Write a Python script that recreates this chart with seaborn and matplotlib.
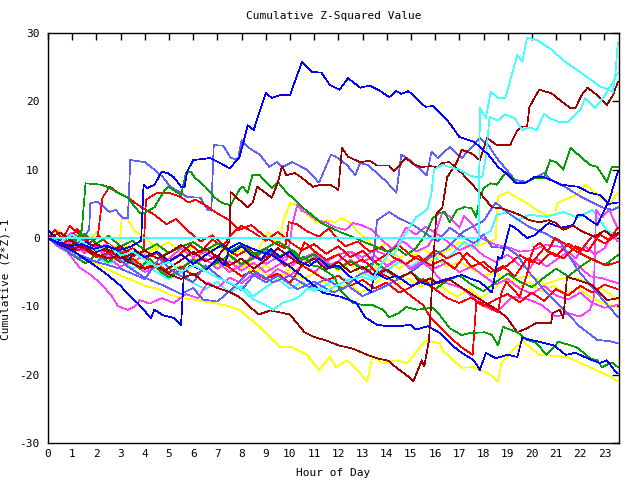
import matplotlib
matplotlib.use("Agg")
import matplotlib.pyplot as plt
import seaborn as sns
import pandas as pd

# ---------------- data: (hour, cumulative value) ----------------
blue_1 = [(0,0),(0.4,-0.6),(0.9,-1.2),(1.4,-0.9),(1.9,-1.6),(2.4,-1.1),(2.9,-1.8),(3.4,-1.3),(3.85,-0.4),(3.95,7.8),(4.1,7.3),(4.4,7.8),(4.7,9.7),(4.95,9.5),(5.2,8.9),(5.5,7.5),(5.65,7.5),(5.75,9.7),(6.0,11.4),(6.7,11.7),(7.1,11.0),(7.5,10.2),(7.9,11.7),(8.1,14.3),(8.25,16.5),(8.5,15.8),(9.0,21.2),(9.25,20.5),(9.6,20.9),(10.0,20.9),(10.5,25.8),(10.9,24.3),(11.3,24.2),(11.65,22.4),(12.05,21.7),(12.4,23.4),(12.9,22.0),(13.3,22.3),(13.7,21.6),(14.1,20.6),(14.4,21.5),(14.6,21.1),(14.9,21.5),(15.2,20.5),(15.6,19.2),(15.9,19.3),(16.2,18.3),(16.6,16.8),(17.0,14.8),(17.6,14.1),(18.2,12.2),(18.6,10.4),(19.0,9.3),(19.3,8.1),(19.7,8.0),(20.1,8.9),(20.5,8.9),(20.9,8.3),(21.2,7.8),(21.9,7.5),(22.4,6.6),(22.8,6.3),(23.2,5.0),(23.55,5.2)]
blue_2 = [(0,1.2),(0.5,-0.5),(1.0,-1.8),(1.5,-3.0),(2.0,-4.2),(2.5,-5.5),(3.0,-7.0),(3.4,-8.6),(3.7,-9.5),(4.25,-11.7),(4.4,-10.5),(4.75,-11.3),(5.2,-11.7),(5.5,-12.7),(5.62,-5.0),(5.9,-4.0),(6.5,-4.8),(7.0,-3.0),(7.3,-4.0),(7.5,-1.5),(7.9,-0.7),(8.6,-1.8),(9.25,-2.5),(10.0,-4.2),(10.7,-6.1),(11.35,-8.0),(12.1,-8.6),(12.75,-9.5),(13.1,-11.6),(13.6,-12.7),(14.0,-12.9),(14.5,-12.9),(15.0,-12.7),(15.2,-13.4),(15.7,-12.9),(16.2,-13.9),(16.7,-15.7),(17.1,-16.8),(17.6,-17.9),(17.85,-19.3),(18.1,-16.8),(18.5,-17.6),(19.0,-17.1),(19.4,-17.4),(19.6,-14.6),(20.3,-15.2),(20.9,-15.7),(21.4,-17.1),(21.8,-16.8),(22.3,-17.6),(22.8,-18.3),(23.1,-17.9),(23.4,-19.3),(23.55,-19.8)]
blue_3 = [(0,0),(0.5,-1.0),(1.0,-1.8),(1.6,-0.6),(2.0,-2.0),(2.5,-1.2),(3.0,-2.6),(3.3,-3.5),(3.6,-1.8),(4.0,-2.8),(4.5,-2.0),(5.0,-3.4),(5.5,-2.4),(6.0,-3.8),(6.5,-2.5),(7.2,-1.0),(7.6,-2.2),(8.0,-1.2),(8.4,-2.5),(8.8,-3.2),(9.2,-1.6),(9.6,-2.8),(10.0,-2.0),(10.4,-3.4),(10.8,-4.1),(11.2,-3.0),(11.6,-4.4),(12.0,-4.0),(12.4,-5.4),(12.8,-6.5),(13.1,-7.2),(13.35,-7.9),(13.5,-5.0),(14.0,-6.0),(14.4,-5.5),(15.0,-7.0),(15.4,-6.5),(15.8,-6.9),(16.3,-6.2),(16.7,-5.8),(17.1,-5.4),(17.5,-6.0),(17.85,-6.4),(18.35,-8.0),(18.6,-2.8),(18.75,-3.0),(19.1,1.9),(19.3,1.5),(19.8,0.0),(20.1,0.4),(20.5,1.6),(20.7,2.2),(21.2,1.5),(21.7,1.9),(21.9,3.4),(22.1,3.4),(22.4,2.6),(22.7,1.9),(23.0,4.1),(23.2,5.6),(23.45,8.5),(23.55,9.7)]
lightblue_1 = [(0,0),(0.5,-0.6),(1.0,-1.2),(1.4,-0.3),(1.7,1.2),(1.75,5.1),(2.05,5.3),(2.55,3.8),(2.8,4.1),(3.1,2.9),(3.3,2.9),(3.4,11.4),(4.0,11.1),(4.4,10.0),(4.75,8.9),(5.05,7.5),(5.45,6.7),(5.75,6.0),(6.3,5.9),(6.6,4.1),(6.75,4.0),(6.85,13.6),(7.25,13.5),(7.55,11.7),(7.85,11.5),(8.0,14.3),(8.3,13.2),(8.75,12.2),(9.15,10.4),(9.45,11.1),(9.7,10.4),(10.1,11.1),(10.7,10.0),(11.2,8.1),(11.7,12.2),(11.9,11.9),(12.35,10.7),(12.7,9.2),(12.9,11.0),(13.2,10.7),(13.6,9.5),(14.0,8.2),(14.4,6.6),(14.6,12.2),(14.95,11.4),(15.65,9.2),(15.85,12.6),(16.1,11.7),(16.6,13.3),(17.1,11.7),(17.85,14.6),(18.2,13.6),(18.55,11.7),(18.95,10.0),(19.3,8.5),(19.8,8.2),(20.5,9.5),(20.8,8.5),(21.45,7.3),(21.9,6.3),(22.1,5.9),(22.9,4.5),(23.35,4.1),(23.55,4.5)]
lightblue_2 = [(0,0),(1.0,-2.0),(2.0,-3.5),(3.0,-4.5),(4.0,-6.0),(4.6,-3.0),(5.2,-5.0),(6.0,-6.5),(6.5,-4.0),(7.2,-6.0),(8.0,-7.6),(8.6,-5.0),(9.3,-6.5),(10.0,-5.5),(10.8,-7.2),(11.5,-6.0),(12.2,-7.5),(12.8,-5.5),(13.4,-4.5),(13.6,2.6),(14.1,3.8),(14.5,2.9),(15.1,1.9),(15.6,0.7),(16.1,-0.5),(16.6,1.5),(17.1,0.3),(17.6,-0.8),(18.0,0.5),(18.35,-1.3),(19.0,-1.5),(19.4,-2.5),(19.9,-5.1),(20.6,-8.0),(21.3,-10.5),(22.0,-13.0),(22.7,-14.9),(23.2,-15.1),(23.55,-15.4)]
lightblue_3 = [(0,0),(0.6,-1.5),(1.2,-2.8),(2.0,-3.5),(2.6,-2.0),(3.3,-4.2),(4.0,-5.8),(4.8,-7.0),(5.5,-8.2),(6.0,-7.3),(6.4,-9.0),(7.0,-9.3),(7.6,-7.5),(8.3,-5.0),(9.0,-6.5),(9.5,-5.5),(10.3,-7.5),(11.0,-6.4),(11.8,-8.0),(12.4,-7.0),(13.0,-8.5),(13.8,-7.3),(14.5,-6.0),(15.2,-4.5),(15.8,-2.8),(16.5,-1.5),(17.2,1.0),(18.0,2.5),(18.5,5.2),(19.0,3.7),(19.9,1.6),(20.6,0.6),(21.2,-0.7),(21.9,-4.7),(22.4,-6.8),(22.9,-8.9),(23.3,-10.5),(23.55,-11.6)]
green_1 = [(0,0),(0.5,-0.8),(1.0,-1.5),(1.4,1.2),(1.55,8.0),(2.2,7.8),(2.45,7.5),(2.9,6.6),(3.3,5.9),(3.6,4.5),(3.8,3.7),(4.0,3.7),(4.4,4.5),(4.75,6.6),(4.95,7.5),(5.2,7.0),(5.5,6.3),(5.7,9.5),(5.9,9.7),(6.05,8.9),(6.5,7.5),(6.9,5.9),(7.2,5.1),(7.55,4.8),(7.9,7.0),(8.05,7.5),(8.25,6.6),(8.45,9.2),(8.75,9.2),(9.25,7.3),(9.5,8.2),(9.85,6.7),(10.1,5.9),(10.5,4.5),(10.9,3.4),(11.3,2.2),(11.7,1.5),(12.05,0.9),(12.5,0.3),(13.0,-0.5),(13.5,-1.2),(14.0,-2.0),(14.4,-1.4),(14.8,-2.5),(15.2,-1.5),(15.6,0.5),(15.9,2.9),(16.2,3.7),(16.4,3.8),(16.6,2.3),(16.9,4.1),(17.2,4.5),(17.5,4.4),(17.7,3.1),(17.85,5.9),(18.0,7.3),(18.3,8.0),(18.55,7.8),(18.9,9.5),(19.2,8.9),(19.4,8.0),(19.8,8.2),(20.1,8.8),(20.5,8.8),(20.75,11.4),(21.0,11.1),(21.3,10.0),(21.6,13.2),(21.85,12.4),(22.4,10.7),(22.7,10.4),(23.1,8.2),(23.3,10.4),(23.55,10.4)]
green_2 = [(0,0),(0.5,0.8),(1.0,-0.4),(1.5,0.6),(2.0,-0.8),(2.5,0.3),(3.0,-1.2),(3.5,-0.4),(4.0,-1.8),(4.5,-0.9),(5.0,-2.2),(5.5,-1.3),(6.0,-0.6),(6.5,-1.8),(7.0,-0.8),(7.5,-2.0),(8.0,-1.0),(8.5,-2.4),(9.0,-1.5),(9.5,-0.5),(9.9,-1.4),(10.2,-2.0),(10.4,-2.9),(10.6,-2.8),(10.9,-4.0),(11.2,-4.2),(11.85,-5.7),(12.05,-7.6),(12.35,-8.6),(12.6,-9.5),(13.0,-9.8),(13.4,-9.8),(13.85,-10.5),(14.1,-11.6),(14.5,-11.0),(14.8,-10.1),(15.25,-10.5),(15.9,-10.2),(16.2,-11.3),(16.6,-13.2),(17.1,-14.2),(17.45,-13.9),(18.05,-13.8),(18.35,-14.2),(18.6,-15.7),(18.75,-13.8),(18.8,-13.0),(19.4,-13.8),(19.8,-14.9),(20.2,-15.4),(20.6,-17.1),(21.1,-15.2),(21.6,-15.7),(21.9,-16.1),(22.4,-17.6),(22.7,-17.9),(22.9,-18.9),(23.3,-18.2),(23.55,-18.9)]
green_3 = [(0,0),(0.5,-1.2),(1.0,-2.5),(1.55,-3.7),(2.0,-2.4),(2.5,-3.5),(3.0,-2.0),(3.3,-3.0),(3.8,-4.5),(4.2,-3.0),(4.6,-4.8),(5.0,-5.8),(5.5,-4.5),(6.0,-3.2),(6.5,-4.4),(7.0,-3.6),(7.5,-2.5),(8.0,-3.8),(8.5,-2.9),(9.0,-1.5),(9.5,-2.8),(10.0,-1.9),(10.5,-3.2),(11.0,-2.4),(11.5,-3.8),(12.0,-4.5),(12.5,-3.4),(13.0,-4.6),(13.5,-3.5),(14.0,-4.8),(14.5,-6.0),(15.0,-5.0),(15.5,-6.4),(16.0,-7.5),(16.5,-6.2),(17.0,-5.5),(17.5,-6.8),(18.0,-7.8),(18.5,-6.5),(19.0,-5.2),(19.5,-6.4),(20.0,-7.2),(20.5,-5.8),(21.0,-4.5),(21.5,-5.6),(22.0,-4.2),(22.5,-3.0),(23.0,-4.0),(23.55,-2.5)]
red_1 = [(0,0),(0.4,0.6),(0.8,-0.5),(1.2,1.3),(1.6,-0.3),(2.05,0.0),(2.25,5.9),(2.55,7.5),(2.9,6.6),(3.3,5.9),(3.9,4.4),(4.4,3.4),(4.9,2.0),(5.3,2.8),(5.8,1.0),(6.3,-0.5),(6.8,0.4),(7.3,-1.2),(7.8,-2.6),(8.3,-1.6),(8.8,-3.1),(9.3,-2.3),(9.8,-4.1),(10.3,-3.2),(10.6,-0.6),(11.0,-1.9),(11.5,-3.2),(12.0,-2.4),(12.5,-4.0),(13.0,-3.1),(13.5,-4.8),(14.0,-5.6),(14.5,-7.0),(15.0,-8.5),(15.5,-9.8),(15.8,-11.6),(16.6,-14.5),(17.1,-16.0),(17.55,-17.1),(17.7,-9.5),(17.85,-9.4),(18.6,-10.8),(18.75,-7.9),(18.95,-6.4),(19.5,-8.6),(19.85,-4.7),(19.9,-3.2),(20.1,-1.3),(20.35,-0.7),(20.65,-2.0),(20.95,0.0),(21.3,-0.7),(21.85,-2.0),(22.7,-3.5),(23.1,-4.0),(23.55,-3.5)]
red_2 = [(0,0),(0.5,-0.8),(1.0,-0.3),(1.5,-1.6),(2.0,-1.0),(2.5,-2.2),(3.0,-1.4),(3.5,-2.7),(3.95,-2.0),(4.05,5.6),(4.5,6.6),(5.0,6.6),(5.5,6.0),(5.8,5.2),(6.1,5.6),(6.5,4.8),(7.0,3.6),(7.5,2.6),(7.9,1.2),(8.4,1.9),(8.9,0.4),(9.4,-0.8),(9.8,-1.5),(9.95,2.3),(10.3,2.0),(10.7,1.0),(11.2,0.2),(11.6,1.4),(12.0,-0.3),(12.3,-1.2),(12.8,-0.5),(13.3,-2.0),(13.8,-1.3),(14.3,-2.9),(14.8,-3.8),(15.3,-2.6),(15.8,-4.0),(16.3,-3.2),(16.8,-4.5),(17.3,-2.2),(17.8,-3.6),(18.3,-5.0),(18.8,-4.1),(19.3,-5.6),(19.8,-3.0),(20.3,-3.8),(20.8,-2.1),(21.3,-3.0),(21.8,-1.2),(22.3,-2.0),(22.8,0.5),(23.2,-0.3),(23.55,1.5)]
red_3 = [(0,0),(0.5,-1.0),(1.0,-2.0),(1.5,-1.5),(2.0,-2.8),(2.5,-2.2),(3.0,-3.6),(3.5,-3.0),(4.0,-4.4),(4.5,-3.8),(5.0,-5.0),(5.5,-4.2),(6.0,-5.5),(6.5,-4.6),(7.0,-3.2),(7.5,-4.3),(8.0,-5.6),(8.5,-4.8),(9.0,-6.0),(9.5,-5.2),(10.0,-6.6),(10.5,-4.0),(11.0,-5.1),(11.5,-6.2),(12.0,-5.5),(12.5,-7.0),(13.0,-6.1),(13.5,-7.4),(14.0,-6.5),(14.5,-8.0),(15.0,-7.2),(15.5,-6.0),(16.0,-7.5),(16.5,-8.8),(17.0,-9.5),(17.5,-8.7),(18.0,-10.0),(18.5,-9.0),(19.0,-8.2),(19.5,-9.4),(20.0,-8.0),(20.5,-9.2),(21.0,-7.5),(21.5,-8.4),(22.0,-7.0),(22.5,-8.0),(23.0,-6.8),(23.55,-7.5)]
red_4 = [(0,0),(0.3,1.2),(0.6,-0.2),(0.9,1.8),(1.3,0.5),(1.7,-0.8),(2.1,0.3),(2.6,-1.2),(3.0,-2.4),(3.5,-1.5),(4.0,-3.0),(4.5,-2.2),(4.9,-3.6),(5.4,-2.5),(5.9,-1.0),(6.3,-2.1),(6.8,-0.2),(7.2,-1.3),(7.6,0.6),(8.0,1.8),(8.5,0.8),(9.0,-0.4),(9.5,0.9),(10.0,-0.6),(10.5,-1.8),(11.0,-0.9),(11.5,-2.3),(12.0,-1.2),(12.5,-2.8),(13.0,-1.9),(13.5,-3.5),(14.0,-2.4),(14.5,-1.0),(15.0,-2.6),(15.5,-3.4),(16.0,-1.8),(16.5,-3.0),(17.0,-2.1),(17.5,-4.2),(18.0,-3.5),(18.5,-5.0),(19.0,-4.0),(19.5,-2.5),(20.0,-3.6),(20.5,-1.5),(21.0,-2.7),(21.5,-0.8),(22.0,-1.9),(22.5,0.3),(23.0,-0.8),(23.55,0.5)]
darkred_1 = [(0,0),(0.5,-0.8),(1.0,-1.5),(1.5,-1.2),(2.0,-2.4),(2.5,-3.0),(3.0,-2.5),(3.5,-3.8),(4.0,-4.5),(4.5,-4.0),(5.0,-5.3),(5.5,-6.0),(6.0,-5.2),(6.5,-6.6),(7.0,-7.3),(7.5,-7.9),(7.9,-8.6),(8.7,-11.2),(9.2,-10.6),(10.0,-11.2),(10.6,-13.8),(11.0,-14.5),(11.5,-15.0),(12.0,-15.7),(12.6,-16.2),(13.2,-17.1),(13.6,-17.6),(14.1,-18.0),(14.4,-19.0),(14.8,-20.0),(15.1,-21.0),(15.45,-17.9),(15.55,-18.8),(15.75,-14.9),(15.9,-5.0),(16.05,3.5),(16.2,4.1),(16.3,4.5),(16.5,8.9),(16.9,11.1),(17.1,12.9),(17.5,12.4),(17.85,11.4),(18.15,14.6),(18.55,13.6),(19.1,13.6),(19.4,15.8),(19.6,16.3),(19.8,16.3),(19.9,19.2),(20.3,21.7),(20.8,21.2),(21.15,20.2),(21.6,19.0),(21.8,19.0),(22.05,20.9),(22.3,22.0),(22.7,20.9),(23.1,19.5),(23.35,20.9),(23.55,22.8)]
darkred_2 = [(0,0),(0.5,0.8),(1.0,-0.5),(1.5,-1.5),(2.0,-0.8),(2.5,-2.0),(3.0,-1.2),(3.5,-2.6),(4.0,-1.8),(4.5,-3.0),(5.0,-2.2),(5.5,-1.0),(6.0,-2.4),(6.5,-1.5),(7.0,-2.8),(7.5,-0.5),(7.55,6.7),(7.9,5.6),(8.25,4.5),(8.45,5.1),(8.65,7.5),(9.25,5.9),(9.5,8.1),(9.65,10.3),(9.7,10.4),(9.85,9.2),(10.2,9.5),(10.5,8.8),(10.7,8.2),(10.95,7.5),(11.3,7.8),(11.65,7.8),(11.9,7.3),(12.0,7.0),(12.15,13.2),(12.4,11.9),(12.9,11.1),(13.3,11.3),(13.6,10.6),(14.1,10.6),(14.3,9.8),(14.8,11.7),(15.1,10.8),(15.4,10.4),(15.8,10.5),(16.1,10.4),(16.3,11.0),(16.6,11.1),(16.8,10.4),(17.1,9.5),(17.85,6.6),(18.35,4.5),(18.8,4.3),(19.2,3.8),(19.6,3.2),(19.9,2.6),(20.3,2.3),(20.7,2.6),(21.0,2.2),(21.3,1.2),(21.7,1.8),(22.1,0.9),(22.6,0.2),(23.0,1.1),(23.3,0.3),(23.55,0.7)]
darkred_3 = [(0,0),(0.6,-1.2),(1.2,-0.8),(1.8,-2.3),(2.4,-1.5),(3.0,-3.0),(3.6,-2.2),(4.2,-3.6),(4.8,-4.8),(5.4,-3.5),(6.0,-2.0),(6.5,-3.4),(7.0,-2.6),(7.5,-4.0),(8.0,-3.0),(8.5,-4.5),(9.0,-3.2),(9.5,-1.5),(10.0,-2.8),(10.5,-4.0),(11.0,-3.0),(11.5,-4.6),(12.0,-3.5),(12.5,-5.0),(13.0,-4.2),(13.5,-5.5),(14.0,-4.6),(14.5,-5.8),(15.0,-5.0),(15.4,-6.5),(15.8,-5.9),(16.1,-6.6),(16.6,-6.1),(17.55,-8.3),(18.55,-10.5),(18.95,-11.6),(19.4,-13.8),(19.8,-13.2),(20.2,-12.4),(20.8,-12.4),(20.85,-11.0),(21.15,-10.5),(21.3,-11.7),(21.45,-5.7),(21.85,-6.1),(22.5,-6.9),(23.1,-9.1),(23.55,-8.8)]
yellow_1 = [(0,0),(0.5,-1.5),(1.0,-2.4),(1.5,-3.0),(2.0,-3.8),(2.5,-4.6),(3.0,-5.5),(3.5,-6.2),(4.0,-7.0),(4.5,-7.4),(5.0,-8.2),(5.5,-8.8),(6.0,-9.0),(6.5,-9.3),(7.0,-9.6),(7.5,-10.0),(7.9,-10.5),(8.75,-13.0),(9.6,-16.0),(10.1,-16.0),(10.7,-17.1),(11.2,-19.3),(11.65,-17.4),(11.9,-18.9),(12.35,-17.9),(12.7,-19.0),(13.2,-21.0),(13.4,-17.4),(13.85,-18.3),(14.4,-17.9),(14.85,-18.3),(15.6,-15.0),(16.2,-15.4),(16.3,-16.4),(17.1,-19.0),(17.55,-18.9),(18.2,-19.8),(18.6,-21.0),(18.75,-18.2),(19.6,-15.0),(20.3,-17.1),(21.45,-17.4),(22.0,-18.3),(22.95,-19.8),(23.3,-20.4),(23.55,-21.0)]
yellow_2 = [(0,0),(0.5,-0.9),(1.0,-1.5),(1.5,-0.8),(2.0,-2.0),(2.5,-1.4),(2.95,-1.0),(3.05,2.9),(3.3,2.7),(3.6,1.0),(4.0,0.2),(4.5,-1.5),(5.0,-0.6),(5.5,-2.2),(6.0,-1.3),(6.5,-2.8),(7.0,-1.0),(7.5,-2.5),(8.0,-1.6),(8.5,-3.0),(8.9,-0.3),(9.1,0.9),(9.4,-0.5),(9.6,-0.5),(9.7,2.2),(10.0,5.1),(10.3,4.8),(10.7,3.4),(11.1,2.3),(11.55,2.6),(11.85,2.3),(12.15,2.9),(12.5,2.2),(12.8,0.9),(13.1,0.0),(13.6,-1.5),(14.0,-0.8),(14.5,-3.0),(15.0,-2.0),(15.5,-3.7),(16.0,-3.0),(16.5,-4.2),(17.0,-3.5),(17.5,-4.5),(18.0,-5.5),(18.5,-5.0),(19.0,-6.5),(19.5,-5.8),(20.0,-5.5),(20.5,-6.8),(21.0,-6.2),(21.5,-5.7),(22.0,-6.0),(22.5,-7.2),(23.0,-7.6),(23.55,-9.1)]
yellow_3 = [(0,0),(0.5,-1.2),(1.0,-2.0),(1.5,-1.5),(2.0,-3.0),(2.5,-2.4),(3.0,-3.6),(3.5,-2.8),(4.0,-4.2),(4.5,-3.5),(5.0,-5.0),(5.5,-4.0),(6.0,-5.4),(6.5,-4.5),(7.0,-3.2),(7.5,-4.8),(8.0,-3.5),(8.5,-5.2),(9.0,-4.0),(9.5,-5.6),(10.0,-4.5),(10.5,-6.0),(11.0,-5.2),(11.5,-3.5),(12.0,-4.8),(12.5,-3.8),(13.0,-5.5),(13.5,-4.4),(14.0,-3.0),(14.5,-4.5),(15.0,-3.2),(15.5,-1.5),(16.0,-2.8),(16.5,-1.8),(17.0,-0.6),(17.5,-1.5),(18.0,-0.8),(18.5,-0.2),(18.6,6.0),(18.75,6.3),(19.0,6.7),(19.8,5.1),(20.2,4.1),(20.55,3.4),(20.95,3.4),(21.05,5.1),(21.6,6.0),(21.9,6.3),(22.2,7.8),(22.5,7.0),(22.95,5.6),(23.2,4.8),(23.4,6.0),(23.55,6.6)]
yellow_4 = [(0,0),(0.4,1.2),(0.8,0.2),(1.2,1.0),(1.6,-0.5),(2.0,0.8),(2.4,-0.6),(2.9,-1.8),(3.4,-1.0),(3.9,-2.5),(4.4,-1.6),(4.9,-3.0),(5.4,-2.0),(5.9,-3.5),(6.4,-2.6),(6.9,-4.2),(7.4,-3.0),(7.9,-4.5),(8.4,-3.6),(8.9,-5.0),(9.4,-6.2),(9.9,-5.0),(10.4,-6.5),(10.9,-7.5),(11.4,-6.3),(11.9,-7.8),(12.4,-6.6),(12.9,-8.0),(13.4,-7.0),(13.9,-5.5),(14.4,-6.8),(14.9,-5.9),(15.4,-7.2),(15.9,-6.0),(16.4,-7.5),(16.9,-8.6),(17.4,-7.4),(17.9,-8.8),(18.4,-7.5),(18.9,-6.0),(19.4,-7.2),(19.9,-6.5),(20.4,-7.8),(20.9,-7.0),(21.4,-8.2),(21.9,-7.4),(22.4,-8.6),(22.9,-9.5),(23.55,-10.2)]
magenta_1 = [(0,0),(0.4,-1.2),(0.8,-2.0),(1.3,-4.3),(1.8,-5.5),(2.15,-6.6),(2.6,-8.3),(2.9,-10.0),(3.3,-10.5),(3.6,-10.0),(3.8,-9.1),(4.2,-9.6),(4.7,-8.8),(5.2,-9.5),(5.7,-8.2),(6.2,-8.8),(6.6,-6.5),(7.0,-7.3),(7.5,-5.8),(8.0,-6.6),(8.5,-5.2),(9.0,-6.0),(9.5,-4.5),(10.0,-5.5),(10.5,-4.0),(11.0,-5.0),(11.5,-3.5),(12.0,-4.6),(12.5,-3.2),(13.0,-4.4),(13.5,-5.6),(14.0,-4.2),(14.5,-3.0),(15.0,-4.5),(15.5,-3.3),(16.0,-4.4),(16.5,-3.6),(17.0,-5.0),(17.5,-4.2),(18.0,-5.5),(18.5,-6.8),(19.0,-6.0),(19.5,-7.4),(20.0,-8.2),(20.5,-7.0),(21.0,-8.4),(21.5,-9.0),(22.0,-8.0),(22.5,-9.5),(23.0,-10.2),(23.55,-9.8)]
magenta_2 = [(0,0),(0.5,-0.5),(1.0,0.8),(1.5,-0.4),(2.0,-1.5),(2.5,-0.8),(3.0,-2.2),(3.5,-1.5),(4.0,-3.0),(4.5,-2.2),(5.0,-3.6),(5.5,-2.4),(6.0,-3.8),(6.5,-3.0),(7.0,-4.5),(7.5,-3.4),(8.0,-4.8),(8.5,-3.6),(9.0,-5.0),(9.5,-4.0),(9.9,-3.0),(10.1,2.0),(10.3,4.8),(10.5,4.0),(10.7,3.7),(11.1,2.6),(11.5,2.3),(11.85,1.6),(12.3,1.2),(12.6,2.2),(12.95,1.9),(13.4,1.2),(13.7,0.0),(14.2,-1.5),(14.7,-0.5),(15.2,-2.0),(15.7,-1.2),(16.0,0.5),(16.3,3.8),(16.6,3.1),(17.0,1.5),(17.2,3.2),(17.5,2.2),(17.9,0.0),(18.5,-1.0),(19.0,-1.3),(19.5,-2.0),(20.0,-1.8),(20.6,-1.0),(21.2,-1.3),(21.8,-3.6),(22.4,-5.6),(22.9,-5.9),(23.55,-6.6)]
magenta_3 = [(0,0),(0.5,-1.5),(1.0,-0.5),(1.5,-2.0),(2.0,-1.2),(2.5,-2.8),(3.0,-1.8),(3.5,-3.5),(4.0,-2.5),(4.5,-4.0),(5.0,-3.0),(5.5,-1.5),(6.0,-2.8),(6.5,-2.0),(7.0,-3.5),(7.5,-2.6),(8.0,-4.0),(8.5,-3.0),(9.0,-1.8),(9.5,-3.2),(10.0,-2.5),(10.5,-3.8),(11.0,-2.8),(11.5,-4.2),(12.0,-3.4),(12.5,-2.0),(13.0,-3.5),(13.5,-2.6),(14.0,-4.0),(14.5,-3.0),(15.0,-4.6),(15.5,-3.6),(15.8,-4.4),(16.3,-6.4),(17.1,-7.3),(17.7,-9.1),(18.1,-10.1),(18.55,-10.8),(19.2,-8.6),(19.8,-8.9),(20.4,-9.8),(21.0,-11.5),(21.5,-11.0),(22.0,-11.5),(22.4,-10.5),(22.55,-9.0),(22.65,4.1),(22.9,3.0),(23.2,4.1),(23.4,2.5),(23.55,1.5)]
magenta_4 = [(0,0),(0.3,-0.8),(0.7,0.4),(1.1,-1.0),(1.5,-2.2),(2.0,-1.5),(2.5,-3.0),(3.0,-4.2),(3.5,-3.4),(4.0,-5.0),(4.5,-4.2),(5.0,-5.6),(5.5,-4.5),(6.0,-3.0),(6.5,-4.4),(7.0,-3.5),(7.5,-5.0),(8.0,-4.0),(8.5,-2.5),(9.0,-3.8),(9.5,-2.8),(10.0,-4.2),(10.5,-3.0),(11.0,-2.2),(11.5,-3.5),(12.0,-2.4),(12.5,-2.0),(13.0,-2.8),(13.5,-1.8),(14.0,-2.5),(14.4,-1.0),(14.8,1.5),(15.2,0.5),(15.6,1.6),(16.0,0.8),(16.5,-0.5),(17.0,-1.8),(17.5,-1.0),(18.0,-2.6),(18.5,-3.5),(19.0,-2.4),(19.5,-4.0),(19.9,-4.5),(20.2,-3.0),(20.6,-4.2),(21.0,-3.2),(21.5,-2.0),(21.8,-3.0),(22.2,-1.2),(22.6,-2.4),(23.0,-1.5),(23.3,0.5),(23.55,-0.5)]
cyan_1 = [(0,0),(17.8,0),(17.85,19.0),(18.1,17.6),(18.3,21.4),(18.6,20.5),(18.9,20.5),(19.1,23.0),(19.4,26.8),(19.6,25.8),(19.8,29.3),(20.2,29.0),(20.8,27.6),(21.3,26.0),(21.7,25.0),(22.1,24.0),(22.5,23.0),(22.8,22.2),(23.1,21.8),(23.35,21.4),(23.45,24.0),(23.55,28.5)]
cyan_2 = [(0,0),(0.5,-0.6),(1.0,0.5),(1.5,-0.8),(2.0,-1.8),(2.5,-1.0),(3.0,-2.6),(3.5,-2.0),(4.0,-3.2),(4.5,-4.2),(5.0,-3.5),(5.5,-5.0),(6.0,-4.0),(6.5,-4.8),(7.0,-5.8),(7.5,-6.5),(8.0,-7.5),(8.5,-9.0),(9.0,-9.8),(9.3,-10.5),(9.7,-9.5),(10.3,-8.8),(10.7,-7.5),(11.0,-7.3),(11.5,-7.8),(12.0,-6.8),(12.5,-6.0),(13.0,-5.7),(13.4,-6.2),(13.7,-4.2),(14.1,-2.2),(14.3,-2.5),(14.5,-1.0),(14.8,0.7),(15.2,3.0),(15.5,3.7),(15.7,4.4),(15.85,6.6),(15.95,10.0),(16.3,10.7),(16.6,10.4),(17.0,10.0),(17.4,9.2),(17.7,8.9),(17.95,8.9),(18.1,12.0),(18.25,17.7),(18.6,17.2),(18.9,18.1),(19.3,17.5),(19.6,15.8),(19.9,16.2),(20.2,15.8),(20.5,18.2),(20.7,17.6),(21.1,17.0),(21.5,17.0),(22.0,18.7),(22.2,20.5),(22.6,19.0),(23.0,20.8),(23.35,22.8),(23.55,24.2)]
cyan_3 = [(0,0),(0.5,-1.0),(1.0,-2.0),(1.5,-1.2),(2.0,-2.8),(2.5,-3.8),(3.0,-3.0),(3.5,-4.5),(4.0,-3.6),(4.5,-5.0),(5.0,-6.0),(5.5,-5.0),(6.0,-6.6),(6.5,-7.5),(7.0,-6.4),(7.5,-8.0),(8.0,-7.0),(8.5,-8.5),(9.0,-7.2),(9.5,-6.0),(10.0,-7.4),(10.5,-6.4),(11.0,-7.8),(11.5,-6.9),(12.0,-5.5),(12.5,-6.5),(13.0,-5.0),(13.5,-6.0),(14.0,-4.8),(14.5,-3.5),(15.0,-4.2),(15.5,-3.0),(15.8,-2.5),(16.3,-3.5),(16.8,-2.0),(17.2,-0.5),(17.6,-1.5),(18.0,0.5),(18.3,1.0),(18.55,3.4),(19.0,3.8),(19.4,2.6),(19.9,3.4),(20.6,3.1),(21.3,3.8),(21.9,3.0),(22.5,4.1),(23.1,1.2),(23.55,0.1)]

hour_ticks = list(range(0, 24))
value_ticks = [-30, -20, -10, 0, 10, 20, 30]

BLUE, LBLUE, GREEN, RED = "#0000ff", "#6060ff", "#00a000", "#ff0000"
DRED, YELLOW, MAGENTA, CYAN = "#a00000", "#ffff00", "#ff40ff", "#40ffff"

series = {
    "yellow_1": (yellow_1, YELLOW), "yellow_2": (yellow_2, YELLOW), "yellow_3": (yellow_3, YELLOW), "yellow_4": (yellow_4, YELLOW),
    "cyan_3": (cyan_3, CYAN), "magenta_1": (magenta_1, MAGENTA), "magenta_2": (magenta_2, MAGENTA),
    "magenta_3": (magenta_3, MAGENTA), "magenta_4": (magenta_4, MAGENTA),
    "green_3": (green_3, GREEN), "red_3": (red_3, RED), "red_4": (red_4, RED),
    "lightblue_2": (lightblue_2, LBLUE), "lightblue_3": (lightblue_3, LBLUE), "lightblue_1": (lightblue_1, LBLUE),
    "darkred_3": (darkred_3, DRED), "red_2": (red_2, RED), "red_1": (red_1, RED),
    "green_2": (green_2, GREEN), "green_1": (green_1, GREEN),
    "blue_3": (blue_3, BLUE), "blue_2": (blue_2, BLUE),
    "darkred_2": (darkred_2, DRED), "darkred_1": (darkred_1, DRED),
    "cyan_2": (cyan_2, CYAN), "cyan_1": (cyan_1, CYAN), "blue_1": (blue_1, BLUE),
}

rows = []
for name, (pts, _c) in series.items():
    for h, v in pts:
        rows.append((name, h, v))
df = pd.DataFrame(rows, columns=["series", "hour", "value"])
palette = {name: c for name, (_p, c) in series.items()}

sns.set_theme(style="white")
plt.rcParams["font.family"] = ["DejaVu Sans Mono", "DejaVu Sans"]

fig = plt.figure(figsize=(6.4, 4.8), dpi=100)
ax = fig.add_axes([48 / 640, 1 - 443 / 480, (619 - 48) / 640, (443 - 33) / 480])

sns.lineplot(data=df, x="hour", y="value", hue="series", palette=palette,
             hue_order=list(series.keys()), estimator=None, sort=False,
             legend=False, linewidth=0.5, antialiased=False, ax=ax)

ax.set_xlim(0, 23.6)
ax.set_ylim(-30, 30)
ax.set_xticks(hour_ticks)
ax.set_xticklabels([str(h) for h in hour_ticks])
ax.set_yticks(value_ticks)
ax.set_yticklabels([str(v) for v in value_ticks])
ax.tick_params(direction="in", length=5, width=1, top=True, right=True,
               labelsize=8, colors="black", pad=4)
ax.tick_params(axis="y", pad=6)
for s in ax.spines.values():
    s.set_color("black")
    s.set_linewidth(1)
ax.grid(False)

ax.set_title("Cumulative Z-Squared Value", fontsize=8, pad=10, color="black")
ax.set_xlabel("Hour of Day", fontsize=8, labelpad=7, color="black")
ax.set_ylabel("Cumulative (Z*Z)-1", fontsize=8, color="black")
ax.yaxis.set_label_coords(-0.066, 0.40)

fig.savefig("out.png", dpi=100)
